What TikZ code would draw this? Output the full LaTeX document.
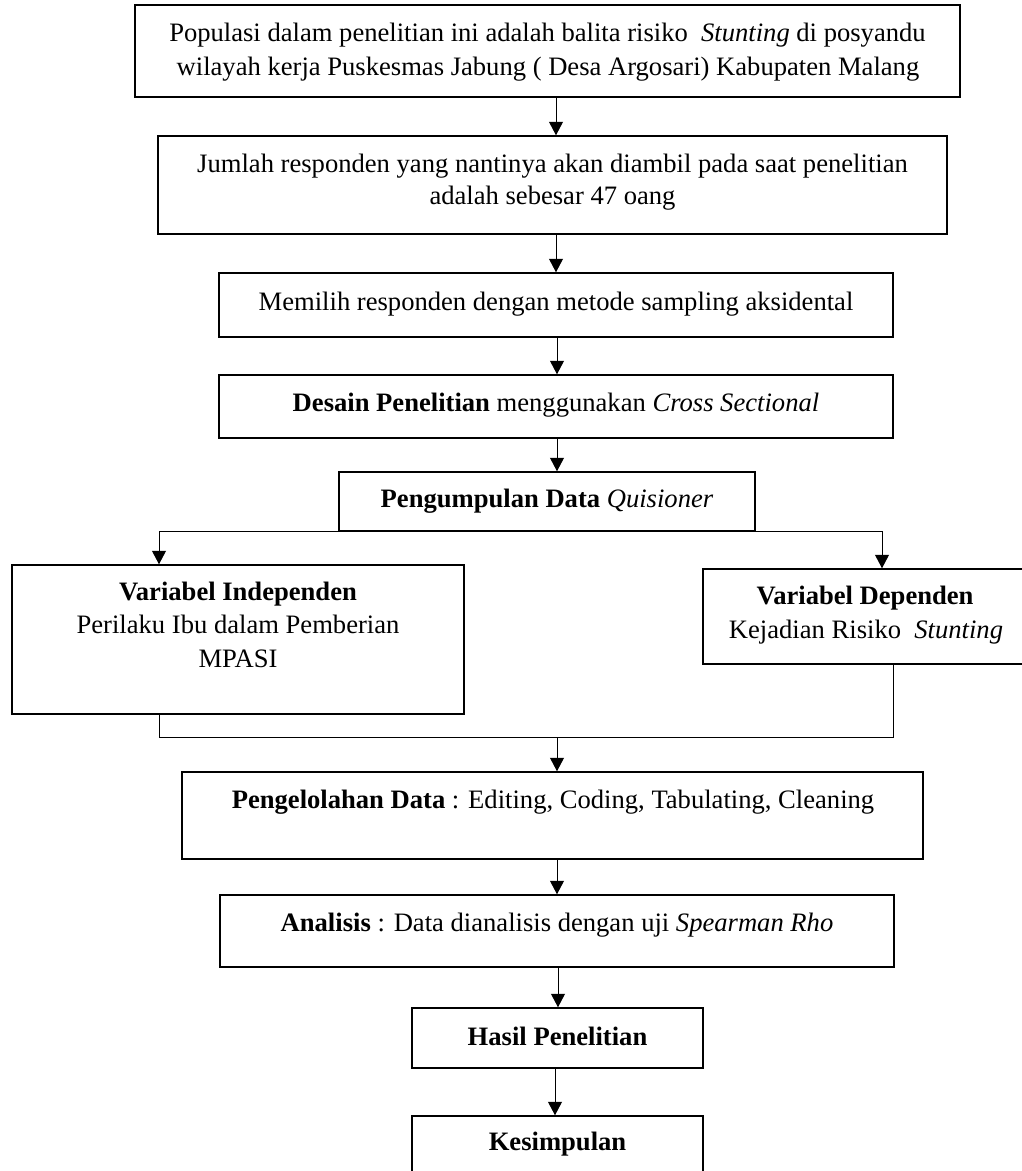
\documentclass[tikz,border=0pt]{standalone}
\usepackage{fontspec}
\setmainfont{Liberation Serif}
\usetikzlibrary{arrows.meta}
\begin{document}
\begin{tikzpicture}[x=1pt,y=-1pt,
  box/.style={draw,rectangle,line width=1.5pt,inner sep=0pt,fill=none},
  txt/.style={inner sep=0pt,anchor=base,font=\fontsize{26.6}{33}\selectfont},
  conn/.style={line width=1pt},
  arr/.style={line width=1pt,-{Triangle[length=13.5pt,width=14pt]}}]
\useasboundingbox (0,0) rectangle (1021,1171);
\fill[white] (0,0) rectangle (1021,1171);
% boxes
\node[box,minimum width=825pt,minimum height=92pt] (b1) at (547.5,51) {};
\node[box,minimum width=789pt,minimum height=98pt] (b2) at (552.5,185) {};
\node[box,minimum width=674pt,minimum height=64pt] (b3) at (556,305) {};
\node[box,minimum width=674pt,minimum height=63pt] (b4) at (556,406.5) {};
\node[box,minimum width=416pt,minimum height=59pt] (b5) at (547,501.5) {};
\node[box,minimum width=452pt,minimum height=149pt] (b6) at (238,639.5) {};
\node[box,minimum width=327pt,minimum height=95pt] (b7) at (866.5,616.5) {};
\node[box,minimum width=741pt,minimum height=87pt] (b8) at (552.5,815.5) {};
\node[box,minimum width=674pt,minimum height=72pt] (b9) at (557,931) {};
\node[box,minimum width=291pt,minimum height=60pt] (b10) at (557.5,1038) {};
\node[box,minimum width=291pt,minimum height=64pt] (b11) at (557.5,1148) {};
% texts
\node[txt] (t1a) at (547.5,41.7) {Populasi dalam penelitian ini adalah balita risiko~ \textit{Stunting} di posyandu};
\node[txt] (t1b) at (548,75) {wilayah kerja Puskesmas Jabung ( Desa Argosari) Kabupaten Malang};
\node[txt] (t2a) at (552.5,172) {Jumlah responden yang nantinya akan diambil pada saat penelitian};
\node[txt] (t2b) at (552.5,204) {adalah sebesar 47 oang};
\node[txt] (t3) at (556,310) {Memilih responden dengan metode sampling aksidental};
\node[txt] (t4) at (556,411) {\textbf{Desain Penelitian} menggunakan \textit{Cross Sectional}};
\node[txt] (t5) at (547,507) {\textbf{Pengumpulan Data} \textit{Quisioner}};
\node[txt] (t6a) at (238,600) {\textbf{Variabel Independen}};
\node[txt] (t6b) at (238,633) {Perilaku Ibu dalam Pemberian};
\node[txt] (t6c) at (238,667) {MPASI};
\node[txt] (t7a) at (865,604) {\textbf{Variabel Dependen}};
\node[txt] (t7b) at (866,638) {Kejadian Risiko~ \textit{Stunting}};
\node[txt] (t8) at (553,808) {\textbf{Pengelolahan Data} : Editing, Coding, Tabulating, Cleaning};
\node[txt] (t9) at (557,931) {\textbf{Analisis} : Data dianalisis dengan uji \textit{Spearman Rho}};
\node[txt] (t10) at (557.5,1045) {\textbf{Hasil Penelitian}};
\node[txt] (t11) at (557.5,1150) {\textbf{Kesimpulan}};
% x positions
\coordinate (xa) at (556,0);
\coordinate (xb) at (557,0);
\coordinate (xc) at (558,0);
\coordinate (xd) at (555,0);
% straight arrows
\draw[arr] (xa |- b1.south) -- (xa |- b2.north);
\draw[arr] (xa |- b2.south) -- (xa |- b3.north);
\draw[arr] (xb |- b3.south) -- (xb |- b4.north);
\draw[arr] (xb |- b4.south) -- (xb |- b5.north);
% split
\coordinate (sL) at (159,531);
\coordinate (sR) at (882,531);
\draw[conn] (sL) -- (sR);
\draw[arr] (sL) -- (sL |- b6.north);
\draw[arr] (sR) -- (sR |- b7.north);
% merge
\coordinate (mL) at (159,737);
\coordinate (mR) at (893,737);
\coordinate (mC) at (557,737);
\draw[conn] (mL |- b6.south) -- (mL) -- (mR) -- (mR |- b7.south);
\draw[arr] (mC) -- (mC |- b8.north);
\draw[arr] (xb |- b8.south) -- (xb |- b9.north);
\draw[arr] (xc |- b9.south) -- (xc |- b10.north);
\draw[arr] (xd |- b10.south) -- (xd |- b11.north);
\end{tikzpicture}
\end{document}
